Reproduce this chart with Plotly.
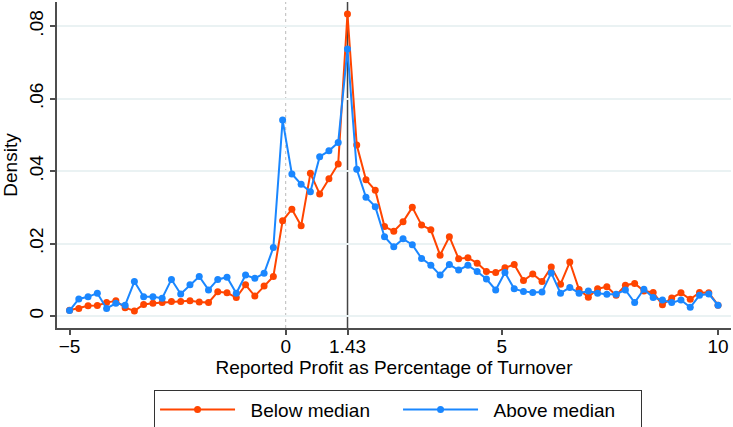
import plotly.graph_objects as go

# Bin centres (percent of turnover)
x_vals = [-5.0, -4.7857, -4.5714, -4.3571, -4.1429, -3.9286, -3.7143, -3.5, -3.2857, -3.0714,
          -2.8571, -2.6429, -2.4286, -2.2143, -2.0, -1.7857, -1.5714, -1.3571, -1.1429, -0.9286,
          -0.7143, -0.5, -0.2857, -0.0714, 0.1429, 0.3571, 0.5714, 0.7857, 1.0, 1.2143,
          1.4286, 1.6429, 1.8571, 2.0714, 2.2857, 2.5, 2.7143, 2.9286, 3.1429, 3.3571,
          3.5714, 3.7857, 4.0, 4.2143, 4.4286, 4.6429, 4.8571, 5.0714, 5.2857, 5.5,
          5.7143, 5.9286, 6.1429, 6.3571, 6.5714, 6.7857, 7.0, 7.2143, 7.4286, 7.6429,
          7.8571, 8.0714, 8.2857, 8.5, 8.7143, 8.9286, 9.1429, 9.3571, 9.5714, 9.7857,
          10.0]

below_median = [0.0016, 0.0021, 0.0028, 0.0029, 0.0037, 0.0042, 0.0023, 0.0014, 0.0032, 0.0035,
                0.0037, 0.0040, 0.0040, 0.0042, 0.0039, 0.0037, 0.0067, 0.0064, 0.0051, 0.0086,
                0.0055, 0.0083, 0.0109, 0.0263, 0.0295, 0.0249, 0.0394, 0.0337, 0.0379, 0.0420,
                0.0834, 0.0472, 0.0376, 0.0347, 0.0247, 0.0234, 0.0260, 0.0300, 0.0251, 0.0238,
                0.0168, 0.0219, 0.0158, 0.0161, 0.0146, 0.0123, 0.0120, 0.0133, 0.0142, 0.0098,
                0.0116, 0.0095, 0.0135, 0.0088, 0.0149, 0.0073, 0.0052, 0.0075, 0.0081, 0.0057,
                0.0085, 0.0090, 0.0069, 0.0065, 0.0031, 0.0050, 0.0064, 0.0046, 0.0065, 0.0064,
                0.0030]

above_median = [0.0015, 0.0047, 0.0053, 0.0063, 0.0021, 0.0035, 0.0030, 0.0095, 0.0053, 0.0053,
                0.0049, 0.0101, 0.0061, 0.0086, 0.0109, 0.0072, 0.0101, 0.0107, 0.0063, 0.0113,
                0.0104, 0.0118, 0.0189, 0.0541, 0.0392, 0.0364, 0.0343, 0.0440, 0.0456, 0.0479,
                0.0737, 0.0405, 0.0328, 0.0302, 0.0219, 0.0191, 0.0213, 0.0197, 0.0159, 0.0140,
                0.0113, 0.0142, 0.0127, 0.0140, 0.0123, 0.0102, 0.0072, 0.0120, 0.0075, 0.0068,
                0.0065, 0.0066, 0.0119, 0.0063, 0.0079, 0.0063, 0.0069, 0.0063, 0.0060, 0.0060,
                0.0072, 0.0037, 0.0074, 0.0051, 0.0044, 0.0037, 0.0044, 0.0024, 0.0057, 0.0061,
                0.0030]

x_tick_vals = [-5, 0, 1.43, 5, 10]
x_tick_text = ["\u22125", "0", "1.43", "5", "10"]
y_tick_vals = [0, 0.02, 0.04, 0.06, 0.08]
y_tick_text = ["0", ".02", ".04", ".06", ".08"]
median_value = 1.43
zero_value = 0

ORANGE = "#FF4500"
BLUE = "#1A87FF"
AXIS = "#4D4D4D"
FONT = "Liberation Sans, Arial, sans-serif"
FS = 19

fig = go.Figure()
fig.add_trace(go.Scatter(
    x=x_vals, y=below_median, mode="lines+markers", name="\u00a0\u00a0Below median",
    line=dict(color=ORANGE, width=2), marker=dict(color=ORANGE, size=7)))
fig.add_trace(go.Scatter(
    x=x_vals, y=above_median, mode="lines+markers", name="\u00a0\u00a0Above median",
    line=dict(color=BLUE, width=2), marker=dict(color=BLUE, size=7)))

fig.add_vline(x=zero_value, line=dict(color="#BBBBBB", width=1, dash="dot"), layer="below")
fig.add_vline(x=median_value, line=dict(color="#444444", width=1.5), layer="below")

fig.update_layout(
    width=733, height=427,
    margin=dict(l=57, r=2, t=2, b=99, autoexpand=False),
    paper_bgcolor="white", plot_bgcolor="white",
    font=dict(family=FONT, size=FS, color="black"),
    showlegend=True,
    legend=dict(orientation="h", x=0.506, xanchor="center", y=-0.189, yanchor="top",
                bordercolor="#333333", borderwidth=1, font=dict(size=FS),
                itemwidth=75, entrywidth=153, entrywidthmode="pixels"),
    xaxis=dict(range=[-5.29, 10.3], tickmode="array", tickvals=x_tick_vals,
               ticktext=x_tick_text, showgrid=False, zeroline=False, automargin=False,
               showline=True, linecolor=AXIS, linewidth=1.5,
               ticks="outside", ticklen=5, tickcolor=AXIS, tickwidth=1.5,
               tickfont=dict(size=FS), ticklabelstandoff=-5,
               title=dict(text="Reported Profit as Percentage of Turnover", standoff=4,
                          font=dict(size=FS))),
    yaxis=dict(range=[-0.00331, 0.0867], tickmode="array", tickvals=y_tick_vals,
               ticktext=y_tick_text, tickangle=-90, showgrid=True, automargin=False,
               gridcolor="#EAF2F3", gridwidth=1.5, zeroline=False,
               showline=True, linecolor=AXIS, linewidth=1.5,
               ticks="outside", ticklen=5, tickcolor=AXIS, tickwidth=1.5,
               tickfont=dict(size=FS),
               title=dict(text="Density", standoff=4, font=dict(size=FS))),
)

fig.write_html(
    "out.html",
    config={"displayModeBar": False},
    post_script="document.body.style.margin='0';document.body.style.overflow='hidden';",
)
